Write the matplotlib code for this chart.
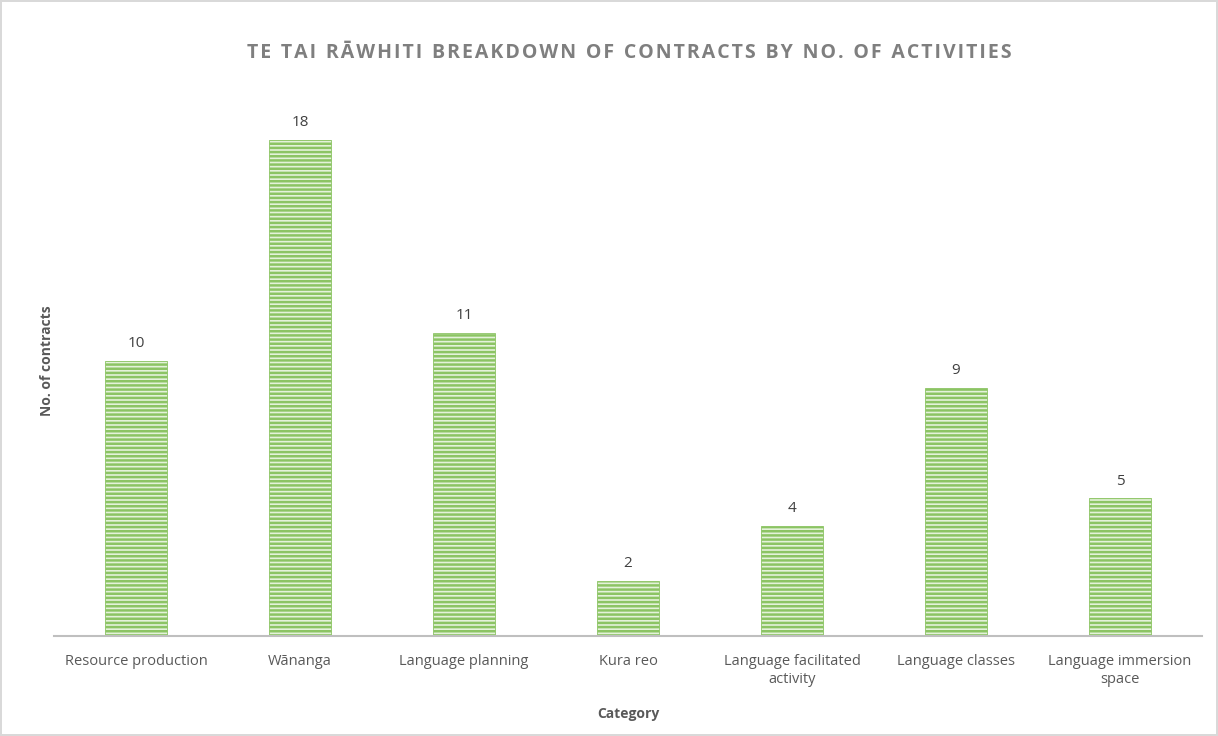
import matplotlib.pyplot as plt
import matplotlib as mpl

categories = ["Resource production", "Wānanga", "Language planning", "Kura reo",
              "Language facilitated\nactivity", "Language classes",
              "Language immersion\nspace"]
contracts = [10, 18, 11, 2, 4, 9, 5]
title = "TE TAI RĀWHITI BREAKDOWN OF CONTRACTS BY NO. OF ACTIVITIES"

plt.rcParams['font.family'] = ['Open Sans', 'DejaVu Sans']
mpl.rcParams['hatch.linewidth'] = 1.8
mpl.rcParams['hatch.color'] = '#6fb045'

fig = plt.figure(figsize=(12.18, 7.36), dpi=100)
fig.patch.set_edgecolor('#d9d9d9')
fig.patch.set_linewidth(1.5)
ax = fig.add_axes([54 / 1218, 100 / 736, 1148 / 1218, 551 / 736])

x = range(len(categories))
bars = ax.bar(x, contracts, width=0.38, color='#e4f2da', edgecolor='#8cc464',
              linewidth=0.6, hatch='----')

for i, v in enumerate(contracts):
    ax.text(i, v + 0.35, str(v), ha='center', va='bottom', fontsize=11, color='#404040')

ax.set_xlim(-0.5, len(categories) - 0.5)
ax.set_ylim(0, 20)
ax.set_xticks(list(x))
ax.set_xticklabels(categories, fontsize=10.5, color='#595959', linespacing=1.3)
ax.tick_params(axis='x', length=0, pad=13)
ax.set_yticks([])
for s in ['top', 'right', 'left']:
    ax.spines[s].set_visible(False)
ax.spines['bottom'].set_color('#bfbfbf')
ax.spines['bottom'].set_linewidth(1.5)

ax.set_xlabel('Category', fontsize=10, fontweight='bold', color='#595959', labelpad=14)
ax.set_ylabel('No. of contracts', fontsize=10, fontweight='bold', color='#595959', labelpad=0)

# spread letters like the spaced-out title of the original
spaced = '\u200a'.join(title).replace('\u200a \u200a', '\u2002')
fig.text(0.517, 0.928, spaced, ha='center', va='center', fontsize=14,
         fontweight='bold', color='#7f7f7f')

fig.savefig('out.png', dpi=100, edgecolor=fig.get_edgecolor())
